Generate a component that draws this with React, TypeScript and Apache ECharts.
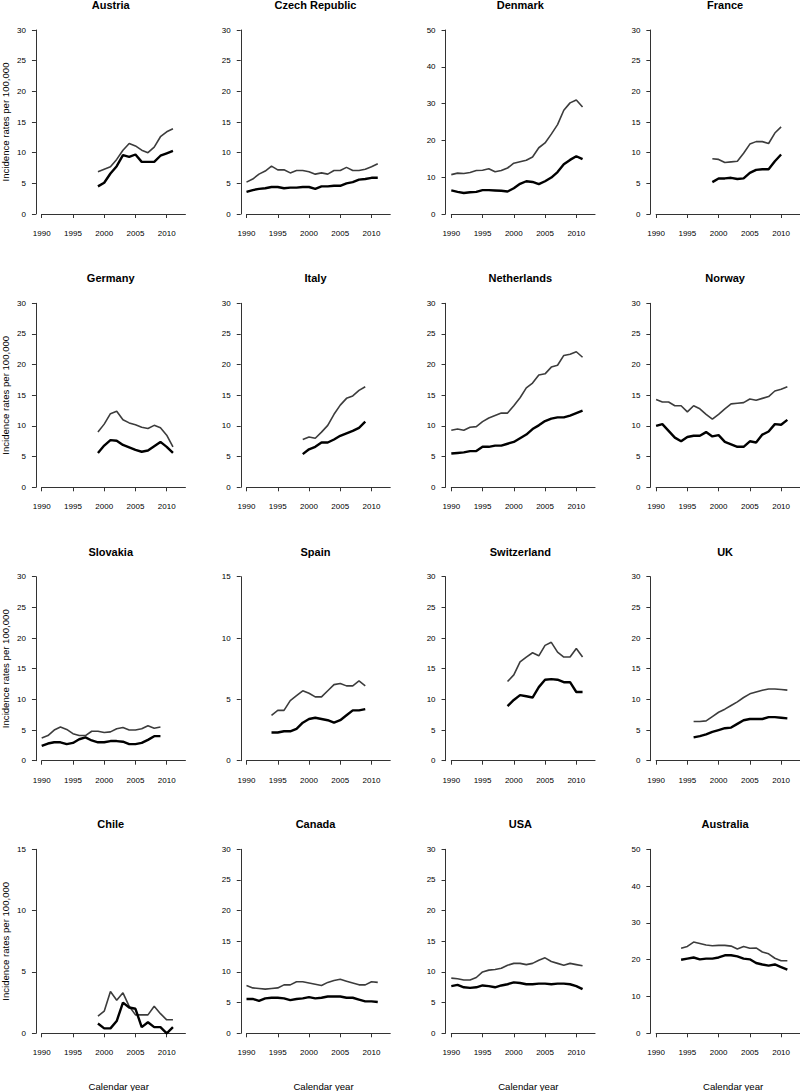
import React, { useEffect, useRef } from "react";
import * as echarts from "echarts";

// ---- Data (incidence rates per 100,000), upper = grey line, lower = black line ----
const countries = [
  "Austria", "Czech Republic", "Denmark", "France",
  "Germany", "Italy", "Netherlands", "Norway",
  "Slovakia", "Spain", "Switzerland", "UK",
  "Chile", "Canada", "USA", "Australia",
];
const startYears = [1999, 1990, 1990, 1999, 1999, 1999, 1990, 1990, 1990, 1994, 1999, 1996, 1999, 1990, 1990, 1994];
const yMaxes = [30, 30, 50, 30, 30, 30, 30, 30, 30, 15, 30, 30, 15, 30, 30, 50];
const yIntervals = [5, 5, 10, 5, 5, 5, 5, 5, 5, 5, 5, 5, 5, 5, 5, 10];
const xTickYears = [1990, 1995, 2000, 2005, 2010];

const austriaHigh = [6.9, 7.3, 7.7, 8.9, 10.4, 11.5, 11.1, 10.4, 10.0, 10.9, 12.6, 13.4, 13.9];
const austriaLow = [4.5, 5.1, 6.6, 7.8, 9.6, 9.3, 9.7, 8.5, 8.5, 8.5, 9.5, 9.9, 10.3];
const czechHigh = [5.2, 5.7, 6.5, 7.0, 7.8, 7.2, 7.2, 6.7, 7.1, 7.1, 6.9, 6.5, 6.7, 6.5, 7.1, 7.1, 7.6, 7.1, 7.1, 7.3, 7.7, 8.2];
const czechLow = [3.6, 3.9, 4.1, 4.2, 4.4, 4.4, 4.2, 4.3, 4.3, 4.4, 4.4, 4.1, 4.5, 4.5, 4.6, 4.6, 5.0, 5.2, 5.6, 5.7, 5.9, 5.9];
const denmarkHigh = [10.7, 11.1, 11.0, 11.3, 11.8, 11.9, 12.3, 11.5, 11.8, 12.5, 13.8, 14.2, 14.6, 15.5, 18.0, 19.3, 21.7, 24.3, 28.2, 30.2, 31.0, 29.1];
const denmarkLow = [6.4, 6.0, 5.7, 5.9, 6.0, 6.5, 6.5, 6.4, 6.3, 6.1, 7.0, 8.2, 8.9, 8.7, 8.1, 8.9, 9.9, 11.4, 13.5, 14.7, 15.7, 14.9];
const franceHigh = [9.0, 8.9, 8.4, 8.5, 8.6, 9.9, 11.4, 11.8, 11.8, 11.5, 13.2, 14.2];
const franceLow = [5.2, 5.8, 5.8, 5.9, 5.7, 5.8, 6.7, 7.2, 7.3, 7.3, 8.6, 9.7];
const germanyHigh = [9.0, 10.3, 12.0, 12.4, 11.0, 10.5, 10.2, 9.8, 9.6, 10.1, 9.7, 8.5, 6.6];
const germanyLow = [5.6, 6.8, 7.7, 7.6, 6.9, 6.5, 6.1, 5.8, 6.0, 6.7, 7.4, 6.6, 5.6];
const italyHigh = [7.8, 8.2, 8.0, 9.0, 10.1, 11.9, 13.4, 14.5, 14.9, 15.8, 16.4];
const italyLow = [5.4, 6.2, 6.6, 7.3, 7.3, 7.8, 8.4, 8.8, 9.2, 9.7, 10.7];
const netherlandsHigh = [9.3, 9.5, 9.3, 9.8, 9.9, 10.7, 11.3, 11.7, 12.1, 12.1, 13.3, 14.6, 16.2, 17.0, 18.3, 18.5, 19.6, 19.9, 21.5, 21.7, 22.1, 21.2];
const netherlandsLow = [5.5, 5.6, 5.7, 5.9, 5.9, 6.6, 6.6, 6.8, 6.8, 7.1, 7.4, 8.0, 8.6, 9.5, 10.1, 10.8, 11.2, 11.4, 11.4, 11.7, 12.1, 12.5];
const norwayHigh = [14.3, 13.9, 13.9, 13.3, 13.3, 12.3, 13.3, 12.8, 11.9, 11.1, 11.9, 12.8, 13.6, 13.7, 13.8, 14.4, 14.2, 14.5, 14.8, 15.7, 16.0, 16.4];
const norwayLow = [10.0, 10.3, 9.2, 8.1, 7.5, 8.2, 8.4, 8.4, 9.0, 8.3, 8.5, 7.4, 7.0, 6.6, 6.6, 7.5, 7.3, 8.6, 9.1, 10.3, 10.2, 11.0];
const slovakiaHigh = [3.7, 4.1, 5.0, 5.5, 5.1, 4.4, 4.1, 4.1, 4.8, 4.8, 4.6, 4.7, 5.2, 5.4, 5.0, 5.0, 5.2, 5.7, 5.3, 5.5];
const slovakiaLow = [2.4, 2.8, 3.0, 3.0, 2.7, 2.9, 3.5, 3.8, 3.3, 3.0, 3.0, 3.2, 3.2, 3.1, 2.7, 2.7, 2.9, 3.4, 4.0, 4.0];
const spainHigh = [3.7, 4.1, 4.1, 4.9, 5.3, 5.7, 5.5, 5.2, 5.2, 5.7, 6.2, 6.3, 6.1, 6.1, 6.5, 6.1];
const spainLow = [2.3, 2.3, 2.4, 2.4, 2.6, 3.1, 3.4, 3.5, 3.4, 3.3, 3.1, 3.3, 3.7, 4.1, 4.1, 4.2];
const switzerlandHigh = [12.9, 14.0, 16.1, 16.9, 17.6, 17.1, 18.8, 19.3, 17.7, 16.9, 16.9, 18.3, 16.9];
const switzerlandLow = [8.9, 9.9, 10.7, 10.5, 10.3, 12.0, 13.2, 13.3, 13.2, 12.8, 12.8, 11.2, 11.2];
const ukHigh = [6.4, 6.4, 6.5, 7.2, 7.9, 8.4, 9.0, 9.6, 10.3, 10.9, 11.2, 11.5, 11.7, 11.7, 11.6, 11.5];
const ukLow = [3.8, 4.0, 4.3, 4.7, 5.0, 5.3, 5.4, 6.0, 6.6, 6.8, 6.8, 6.8, 7.1, 7.1, 7.0, 6.9];
const chileHigh = [1.4, 1.8, 3.4, 2.7, 3.3, 2.2, 1.5, 1.5, 1.5, 2.2, 1.6, 1.1, 1.1];
const chileLow = [0.8, 0.4, 0.4, 1.0, 2.5, 2.1, 2.0, 0.5, 0.9, 0.5, 0.5, 0.0, 0.5];
const canadaHigh = [7.8, 7.4, 7.3, 7.2, 7.3, 7.4, 7.9, 7.9, 8.4, 8.4, 8.2, 8.0, 7.8, 8.3, 8.6, 8.8, 8.5, 8.2, 7.9, 7.9, 8.4, 8.3];
const canadaLow = [5.6, 5.6, 5.3, 5.7, 5.8, 5.8, 5.7, 5.4, 5.6, 5.7, 5.9, 5.7, 5.8, 6.0, 6.0, 6.0, 5.8, 5.8, 5.5, 5.2, 5.2, 5.1];
const usaHigh = [9.0, 8.9, 8.7, 8.7, 9.1, 10.0, 10.3, 10.4, 10.6, 11.1, 11.4, 11.4, 11.2, 11.4, 11.9, 12.3, 11.7, 11.4, 11.1, 11.4, 11.2, 11.0];
const usaLow = [7.7, 7.9, 7.5, 7.4, 7.5, 7.8, 7.7, 7.5, 7.8, 8.0, 8.3, 8.2, 8.0, 8.0, 8.1, 8.1, 8.0, 8.1, 8.1, 8.0, 7.7, 7.2];
const australiaHigh = [23.1, 23.6, 24.8, 24.4, 24.0, 23.8, 23.9, 23.9, 23.7, 22.9, 23.6, 23.1, 23.2, 22.1, 21.6, 20.4, 19.7, 19.7];
const australiaLow = [20.0, 20.3, 20.6, 20.1, 20.3, 20.3, 20.6, 21.2, 21.2, 20.9, 20.3, 20.1, 19.1, 18.7, 18.4, 18.7, 18.0, 17.3];

const highSeries = [
  austriaHigh, czechHigh, denmarkHigh, franceHigh,
  germanyHigh, italyHigh, netherlandsHigh, norwayHigh,
  slovakiaHigh, spainHigh, switzerlandHigh, ukHigh,
  chileHigh, canadaHigh, usaHigh, australiaHigh,
];
const lowSeries = [
  austriaLow, czechLow, denmarkLow, franceLow,
  germanyLow, italyLow, netherlandsLow, norwayLow,
  slovakiaLow, spainLow, switzerlandLow, ukLow,
  chileLow, canadaLow, usaLow, australiaLow,
];

// ---- Layout ----
const W = 800;
const H = 1091;
const colX = [41.7, 246.5, 451.3, 656.1]; // pixel x of 1990
const rowTop = [30, 303.3, 576.7, 849.3]; // pixel y of y-max
const PX_PER_YEAR = 6.25;
const XMIN = 1990;
const XMAX = 2013;
const GRID_W = (XMAX - XMIN) * PX_PER_YEAR;
const GRID_H = 184;
const X_OFFSET = 0.04 * GRID_H;
const Y_OFFSET = 0.04 * GRID_W;
const FONT = "'Liberation Sans', Arial, Helvetica, sans-serif";
const AXIS_COLOR = "#333";

function toPairs(start: number, vals: number[]) {
  return vals.map((v, i) => [start + i, v]);
}

export default function App() {
  const ref = useRef<HTMLDivElement>(null);

  useEffect(() => {
    document.body.style.margin = "0";
    if (!ref.current) return;
    const chart = echarts.init(ref.current, null, { renderer: "svg" });

    const grids: any[] = [];
    const xAxes: any[] = [];
    const yAxes: any[] = [];
    const series: any[] = [];
    const graphics: any[] = [];

    countries.forEach((name, i) => {
      const r = Math.floor(i / 4);
      const c = i % 4;
      grids.push({
        left: colX[c],
        top: rowTop[r],
        width: GRID_W,
        height: GRID_H,
        containLabel: false,
      });
      xAxes.push({
        type: "value",
        gridIndex: i,
        min: XMIN,
        max: XMAX,
        offset: X_OFFSET,
        axisLine: { show: true, lineStyle: { color: AXIS_COLOR, width: 1 } },
        axisTick: {
          show: true,
          length: 4,
          customValues: xTickYears,
          lineStyle: { color: AXIS_COLOR, width: 1 },
        },
        axisLabel: {
          customValues: xTickYears,
          fontSize: 8,
          fontFamily: FONT,
          color: "#000",
          margin: 8,
          formatter: (v: number) => String(v),
        },
        splitLine: { show: false },
      });
      yAxes.push({
        type: "value",
        gridIndex: i,
        min: 0,
        max: yMaxes[i],
        interval: yIntervals[i],
        offset: Y_OFFSET,
        axisLine: { show: true, lineStyle: { color: AXIS_COLOR, width: 1 } },
        axisTick: { show: true, length: 4, lineStyle: { color: AXIS_COLOR, width: 1 } },
        axisLabel: {
          fontSize: 8,
          fontFamily: FONT,
          color: "#000",
          margin: 10,
        },
        splitLine: { show: false },
      });
      series.push({
        type: "line",
        xAxisIndex: i,
        yAxisIndex: i,
        data: toPairs(startYears[i], highSeries[i]),
        showSymbol: false,
        symbol: "none",
        clip: false,
        lineStyle: { color: "#3c3c3c", width: 1.6 },
      });
      series.push({
        type: "line",
        xAxisIndex: i,
        yAxisIndex: i,
        data: toPairs(startYears[i], lowSeries[i]),
        showSymbol: false,
        symbol: "none",
        clip: false,
        lineStyle: { color: "#000", width: 2.4 },
      });
      // panel title
      graphics.push({
        type: "text",
        x: colX[c] + 69,
        y: rowTop[r] - 25,
        style: {
          text: name,
          font: `bold 11px ${FONT}`,
          fill: "#000",
          align: "center",
          verticalAlign: "middle",
        },
      });
      if (c === 0) {
        graphics.push({
          type: "text",
          x: 5,
          y: rowTop[r] + (GRID_H) / 2,
          rotation: Math.PI / 2,
          style: {
            text: "Incidence rates per 100,000",
            font: `9.6px ${FONT}`,
            fill: "#000",
            align: "center",
            verticalAlign: "middle",
          },
        });
      }
      if (r === 3) {
        graphics.push({
          type: "text",
          x: colX[c] + 77,
          y: 1086,
          style: {
            text: "Calendar year",
            font: `9.6px ${FONT}`,
            fill: "#000",
            align: "center",
            verticalAlign: "middle",
          },
        });
      }
    });

    chart.setOption({
      animation: false,
      backgroundColor: "#fff",
      grid: grids,
      xAxis: xAxes,
      yAxis: yAxes,
      series,
      graphic: graphics,
    });

    return () => chart.dispose();
  }, []);

  return <div ref={ref} style={{ width: W, height: H }} />;
}
